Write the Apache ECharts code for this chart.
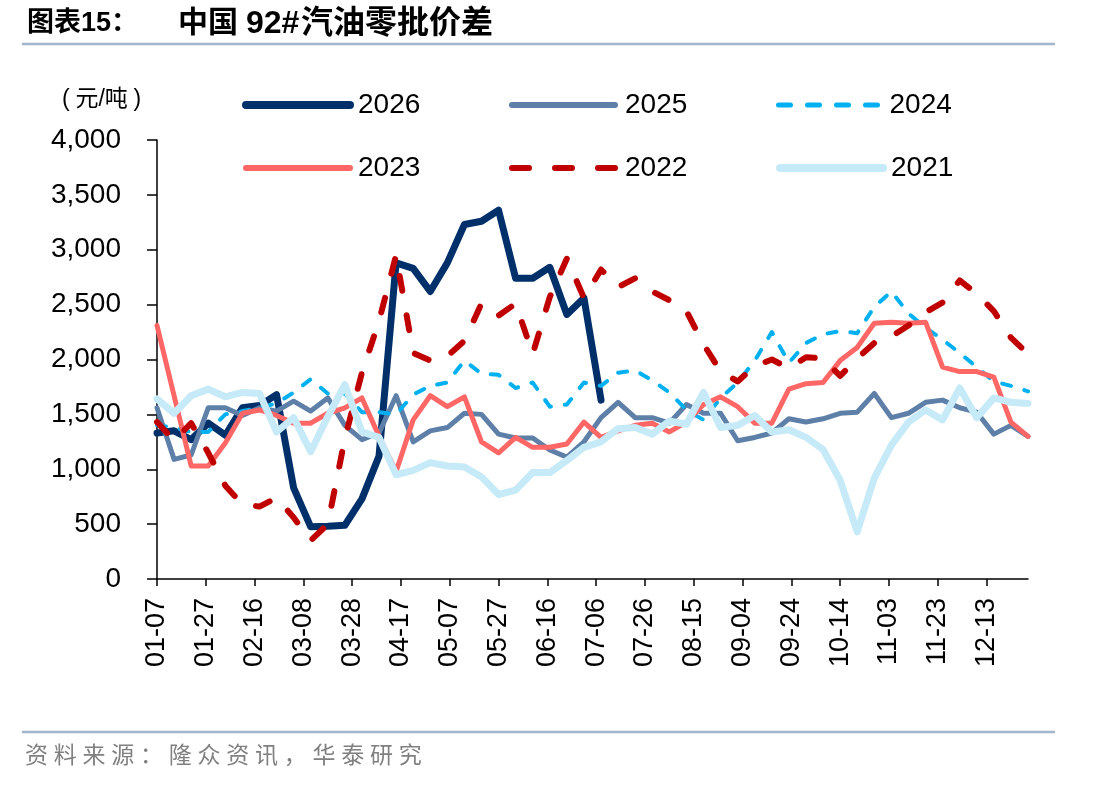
<!DOCTYPE html>
<html>
<head>
<meta charset="utf-8">
<script src="https://cdn.jsdelivr.net/npm/echarts/dist/echarts.min.js"></script>
<style>
  html, body { margin: 0; padding: 0; background: #fff; }
  #main { width: 1112px; height: 786px; }
</style>
</head>
<body>
<div id="main"></div>
<script>
// daily categories 01-07 .. 12-30, labels every 20 days
const days = [];
for (let i = 0; i < 358; i++) {
    const d = new Date(Date.UTC(2025, 0, 7) + i * 86400000);
    days.push(String(d.getUTCMonth() + 1).padStart(2, '0') + '-' + String(d.getUTCDate()).padStart(2, '0'));
}
// weekly observation dates
const weeks = days.filter((_, i) => i % 7 === 0);

const yTicks = [0, 500, 1000, 1500, 2000, 2500, 3000, 3500, 4000];

// weekly values (yuan/ton)
const s2026 = [1330, 1350, 1270, 1420, 1310, 1560, 1580, 1680, 830, 475, 480, 490, 730, 1120, 2880, 2830, 2620, 2880, 3230, 3260, 3360, 2740, 2740, 2840, 2410, 2560, 1630];
const s2025 = [1560, 1090, 1130, 1560, 1560, 1490, 1560, 1530, 1620, 1530, 1650, 1400, 1270, 1330, 1670, 1250, 1350, 1380, 1510, 1500, 1320, 1285, 1285, 1175, 1110, 1250, 1470, 1610, 1470, 1470, 1420, 1590, 1510, 1510, 1260, 1290, 1330, 1460, 1430, 1460, 1510, 1520, 1690, 1470, 1510, 1610, 1630, 1560, 1520, 1320, 1400, 1300];
const s2024 = [1400, 1380, 1340, 1340, 1500, 1530, 1560, 1600, 1700, 1820, 1690, 1690, 1520, 1520, 1500, 1680, 1760, 1790, 1990, 1870, 1860, 1740, 1790, 1570, 1590, 1790, 1760, 1880, 1900, 1810, 1700, 1540, 1450, 1650, 1790, 1990, 2250, 1970, 2150, 2230, 2260, 2240, 2480, 2620, 2420, 2290, 2180, 2060, 1930, 1800, 1760, 1710];
const s2023 = [2310, 1670, 1030, 1030, 1240, 1510, 1540, 1490, 1420, 1420, 1510, 1560, 1650, 1300, 980, 1450, 1670, 1570, 1660, 1250, 1150, 1290, 1200, 1200, 1230, 1430, 1290, 1350, 1400, 1420, 1340, 1430, 1590, 1660, 1570, 1420, 1420, 1730, 1780, 1790, 1990, 2110, 2330, 2340, 2330, 2340, 1930, 1890, 1890, 1840, 1430, 1300];
const s2022 = [1430, 1260, 1420, 1150, 850, 680, 660, 740, 560, 350, 500, 1280, 1880, 2350, 2950, 2060, 1990, 2030, 2170, 2510, 2400, 2510, 2050, 2570, 2920, 2560, 2820, 2660, 2740, 2620, 2540, 2440, 2140, 1890, 1800, 1940, 2000, 1920, 2020, 2010, 1850, 2010, 2150, 2210, 2310, 2430, 2520, 2720, 2600, 2440, 2200, 2050];
const s2021 = [1640, 1510, 1670, 1730, 1660, 1700, 1690, 1340, 1470, 1160, 1480, 1770, 1340, 1290, 950, 990, 1060, 1030, 1020, 930, 770, 810, 970, 970, 1080, 1200, 1250, 1370, 1380, 1320, 1440, 1410, 1700, 1380, 1400, 1490, 1340, 1360, 1290, 1180, 900, 430, 920, 1220, 1430, 1540, 1450, 1740, 1470, 1650, 1610, 1600];

const font = '"Liberation Sans", "Noto Sans CJK SC", sans-serif';

function line(name, vals, color, width, type) {
    return {
        name: name,
        type: 'line',
        data: vals.map((v, k) => [weeks[k], v]),
        symbol: 'none',
        lineStyle: { color: color, width: width, type: type, cap: 'round', join: 'round' },
        itemStyle: { color: color },
        emphasis: { disabled: true }
    };
}

function legendItem(name, left, top, iw, lw, type, pad) {
    return {
        data: [name],
        left: left,
        top: top,
        padding: 0,
        itemWidth: iw,
        itemHeight: 14,
        selectedMode: false,
        itemStyle: { opacity: 0, borderWidth: 0 },   // hide the dot, keep the line
        lineStyle: { width: lw, type: type, cap: 'round' },
        textStyle: { fontSize: 28, fontFamily: font, color: '#000', padding: [0, 0, 0, pad] }
    };
}

const chart = echarts.init(document.getElementById('main'));

const option = {
    animation: false,
    backgroundColor: '#fff',
    grid: { left: 157, right: 84, top: 140, bottom: 207 },
    legend: [
        legendItem('2026', 242, 91, 104, 8, 'solid', 3),
        legendItem('2025', 509, 91, 103, 6, 'solid', 5),
        legendItem('2024', 776, 91, 105, 5, [12, 17], 1),
        legendItem('2023', 243, 154, 104, 6, 'solid', 3),
        legendItem('2022', 509, 154, 103, 6, [17, 26], 5),
        legendItem('2021', 776, 154, 103, 8, 'solid', 3)
    ],
    xAxis: {
        type: 'category',
        data: days,
        boundaryGap: false,
        axisLine: { lineStyle: { color: '#000', width: 1.5 } },
        axisTick: { interval: 19, length: 7, lineStyle: { color: '#000', width: 1.5 } },
        axisLabel: { interval: 19, rotate: 90, fontSize: 27, fontFamily: font, color: '#000', margin: 19 },
        splitLine: { show: false }
    },
    yAxis: {
        type: 'value',
        min: yTicks[0],
        max: yTicks[yTicks.length - 1],
        interval: 500,
        axisLine: { show: true, lineStyle: { color: '#000', width: 1.5 } },
        axisTick: { show: true, length: 10, lineStyle: { color: '#000', width: 1.5 } },
        axisLabel: {
            fontSize: 28, fontFamily: font, color: '#000', margin: 36,
            formatter: v => v.toLocaleString('en-US')
        },
        splitLine: { show: false }
    },
    series: [
        line('2026', s2026, '#00306A', 7, 'solid'),
        line('2025', s2025, '#5E80A8', 5, 'solid'),
        line('2024', s2024, '#00B0F0', 4, [9, 14]),
        line('2023', s2023, '#FF6666', 5, 'solid'),
        line('2022', s2022, '#C00000', 6, [15, 25]),
        line('2021', s2021, '#C6EAF8', 7, 'solid')
    ],
    graphic: [
        { type: 'text', x: 27, y: 24, style: { text: '图表15：', fontSize: 27, fontWeight: 'bold', fontFamily: font, fill: '#000', verticalAlign: 'middle' } },
        { type: 'text', x: 178, y: 24, style: { text: '中国', fontSize: 30, fontWeight: 'bold', fontFamily: font, fill: '#000', verticalAlign: 'middle' } },
        { type: 'text', x: 246, y: 24, style: { text: '92#', fontSize: 32, fontWeight: 'bold', fontFamily: font, fill: '#000', verticalAlign: 'middle' } },
        { type: 'text', x: 301, y: 24, style: { text: '汽油零批价差', fontSize: 32, fontWeight: 'bold', fontFamily: font, fill: '#000', verticalAlign: 'middle' } },
        { type: 'line', shape: { x1: 22, y1: 44, x2: 1055, y2: 44 }, style: { stroke: '#A2B5CB', lineWidth: 2.5 } },
        { type: 'text', x: 62, y: 100, style: { text: '(\u2005元/吨\u2005)', fontSize: 23, fontFamily: font, fill: '#000', verticalAlign: 'middle' } },
        { type: 'line', shape: { x1: 22, y1: 732, x2: 1055, y2: 732 }, style: { stroke: '#A2B5CB', lineWidth: 2.5 } },
        { type: 'text', x: 25, y: 754, style: { text: '资\u2005料\u2005来\u2005源\u2005：\u2005隆\u2005众\u2005资\u2005讯\u2005，\u2005华\u2005泰\u2005研\u2005究', fontSize: 23, fontFamily: '"Noto Sans CJK SC", sans-serif', fill: '#808080', verticalAlign: 'middle' } }
    ]
};

chart.setOption(option);
</script>
</body>
</html>
